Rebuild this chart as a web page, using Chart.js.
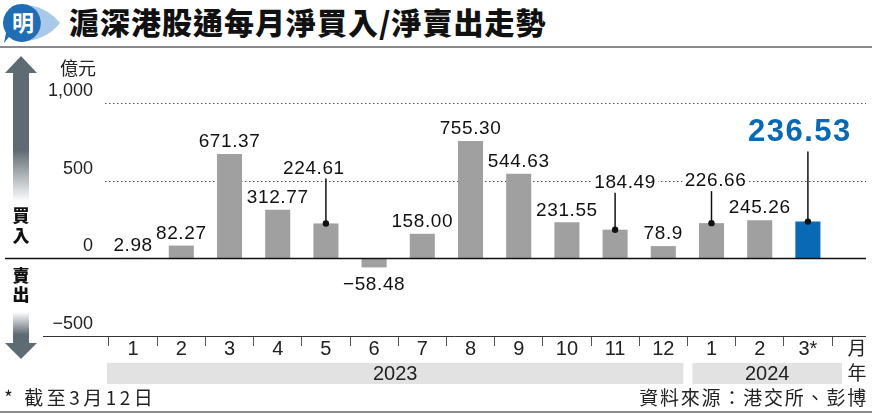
<!DOCTYPE html>
<html>
<head>
<meta charset="utf-8">
<script src="https://cdn.jsdelivr.net/npm/chart.js@4"></script>
<style>
  html, body { margin: 0; padding: 0; background: #fff; }
  #wrap { position: relative; width: 872px; height: 414px; overflow: hidden; }
  #chart { position: absolute; left: 0; top: 0; }
  .title { position: absolute; left: 69px; top: 1px; font: 900 30px "Noto Sans CJK TC", sans-serif; color: #111; letter-spacing: 1px; line-height: 40px; }
  .rule { position: absolute; left: 0; width: 872px; height: 2px; background: #8a8a8a; }
  .foot { position: absolute; top: 385px; font: 19px "Noto Sans CJK TC", sans-serif; color: #222; line-height: 24px; }
</style>
</head>
<body>
<div id="wrap">
  <svg style="position:absolute;left:0;top:0" width="64" height="46">
    <path d="M28 5 Q48 8 60 23 Q48 38 28 41 Z" fill="#a9c9ea"/>
    <path d="M23 4 A19 19 0 1 1 9 37 L4 43 L6 33 A19 19 0 0 1 23 4 Z" fill="#1f6db4"/>
    <text x="23" y="31" text-anchor="middle" font-family="Noto Sans CJK TC" font-weight="bold" font-size="22" fill="#fff">明</text>
  </svg>
  <div class="title">滬深港股通每月淨買入/淨賣出走勢</div>
  <div class="rule" style="top:46px"></div>
  <canvas id="chart" width="872" height="414"></canvas>
  <div class="foot" style="left:4px;letter-spacing:3.5px">* 截至3月12日</div>
  <div class="foot" style="right:4px;letter-spacing:1.8px">資料來源：港交所、彭博</div>
  <div class="rule" style="top:411px"></div>
</div>
<script>
// Data
const months = ['1', '2', '3', '4', '5', '6', '7', '8', '9', '10', '11', '12', '1', '2', '3*'];
const years = ['2023', '2024'];
const yearSpans = [12, 3];
const netFlow = [2.98, 82.27, 671.37, 312.77, 224.61, -58.48, 158.00, 755.30, 544.63, 231.55, 184.49, 78.9, 226.66, 245.26, 236.53];
const valueText = ['2.98', '82.27', '671.37', '312.77', '224.61', '−58.48', '158.00', '755.30', '544.63', '231.55', '184.49', '78.9', '226.66', '245.26', '236.53'];
const yTicks = [-500, 0, 500, 1000];

// label placement (pixels) for the labels with leader lines
const leaderLift = { 4: 56, 10: 48, 12: 43, 14: 90 };
const leaderShift = { 4: -12, 10: 10, 12: 4, 14: -8 };

const GRAY = '#a0a0a0';
const BLUE = '#0a69b4';
const NUM_FONT = '"Liberation Sans", Arial, sans-serif';
const NARROW_FONT = '"Liberation Sans Narrow", "Arial Narrow", "Liberation Sans", sans-serif';
const CJK_FONT = '"Noto Sans CJK TC", sans-serif';

function arrowShaft(ctx, y0, y1, fadeTop) {
    const g = ctx.createLinearGradient(0, y0, 0, y1);
    if (fadeTop) {
        g.addColorStop(0, 'rgba(95,107,115,0)');
        g.addColorStop(0.7, '#5f6b73');
    } else {
        g.addColorStop(0.6, '#5f6b73');
        g.addColorStop(1, 'rgba(95,107,115,0)');
    }
    ctx.fillStyle = g;
    ctx.fillRect(13, y0, 16, y1 - y0);
}

const decor = {
    id: 'decor',
    beforeDatasetsDraw(chart) {
        const ctx = chart.ctx;
        const y = chart.scales.y;
        const x = chart.scales.x;
        const area = chart.chartArea;
        ctx.save();

        // side arrows
        ctx.fillStyle = '#5f6b73';
        ctx.beginPath();
        ctx.moveTo(5, 73); ctx.lineTo(21, 56); ctx.lineTo(37, 73); ctx.closePath();
        ctx.fill();
        arrowShaft(ctx, 72, 202, false);
        arrowShaft(ctx, 312, 344, true);
        ctx.fillStyle = '#5f6b73';
        ctx.beginPath();
        ctx.moveTo(5, 343); ctx.lineTo(21, 359); ctx.lineTo(37, 343); ctx.closePath();
        ctx.fill();

        ctx.fillStyle = '#111';
        ctx.font = '900 17px ' + CJK_FONT;
        ctx.textAlign = 'center';
        ctx.textBaseline = 'middle';
        ctx.fillText('買', 21, 216);
        ctx.fillText('入', 21, 236);
        ctx.fillText('賣', 21, 276);
        ctx.fillText('出', 21, 295);

        // unit
        ctx.font = '18px ' + CJK_FONT;
        ctx.textAlign = 'right';
        ctx.fillStyle = '#222';
        ctx.fillText('億元', 96, 68);

        // dotted grid lines
        ctx.strokeStyle = '#555';
        ctx.lineWidth = 1;
        ctx.setLineDash([1.5, 2.5]);
        y.ticks.forEach(t => {
            if (t.value <= 0) return;
            const py = Math.round(y.getPixelForValue(t.value)) + 0.5;
            ctx.beginPath();
            ctx.moveTo(105, py);
            ctx.lineTo(866, py);
            ctx.stroke();
        });
        ctx.setLineDash([]);

        // year bands
        const half = (x.getPixelForValue(1) - x.getPixelForValue(0)) / 2;
        let start = 0;
        ctx.font = '20px ' + NARROW_FONT;
        ctx.textAlign = 'center';
        years.forEach((yr, k) => {
            const end = start + yearSpans[k] - 1;
            const left = x.getPixelForValue(start) - half + (k === 0 ? -2 : 5);
            const right = x.getPixelForValue(end) + half + (k === years.length - 1 ? 10 : -4);
            ctx.fillStyle = '#e2e2e2';
            ctx.fillRect(left, 363, right - left, 21);
            ctx.fillStyle = '#222';
            ctx.fillText(yr, (left + right) / 2, 374);
            start = end + 1;
        });

        ctx.font = '19px ' + CJK_FONT;
        ctx.fillText('月', 857, 348);
        ctx.fillText('年', 857, 373);

        // bottom axis line
        ctx.strokeStyle = '#333';
        ctx.beginPath();
        ctx.moveTo(43, area.bottom + 0.5);
        ctx.lineTo(866, area.bottom + 0.5);
        ctx.stroke();
        ctx.restore();
    },
    afterDatasetsDraw(chart) {
        const ctx = chart.ctx;
        const y = chart.scales.y;
        const meta = chart.getDatasetMeta(0);
        ctx.save();

        // zero line
        const zy = Math.round(y.getPixelForValue(0)) + 0.5;
        ctx.strokeStyle = '#111';
        ctx.lineWidth = 1.5;
        ctx.beginPath();
        ctx.moveTo(5, zy);
        ctx.lineTo(866, zy);
        ctx.stroke();

        ctx.textAlign = 'center';
        ctx.textBaseline = 'middle';
        meta.data.forEach((bar, i) => {
            const v = netFlow[i];
            const last = i === netFlow.length - 1;
            ctx.font = last ? 'bold 31px ' + NUM_FONT : '19px ' + NUM_FONT;
            ctx.letterSpacing = last ? '1.5px' : '0.6px';
            let lx = bar.x;
            let ly;
            if (leaderLift[i] !== undefined) {
                ly = bar.y - leaderLift[i];
                lx += leaderShift[i];
                ctx.strokeStyle = '#111';
                ctx.lineWidth = 1.5;
                ctx.beginPath();
                ctx.moveTo(bar.x, bar.y);
                ctx.lineTo(bar.x, ly + (last ? 20 : 11));
                ctx.stroke();
                ctx.fillStyle = '#111';
                ctx.beginPath();
                ctx.arc(bar.x, bar.y, 3.2, 0, Math.PI * 2);
                ctx.fill();
            } else if (v >= 0) {
                ly = bar.y - 13;
            } else {
                ly = bar.y + 16;
            }
            const w = ctx.measureText(valueText[i]).width;
            ctx.fillStyle = '#fff';
            ctx.fillRect(lx - w / 2 - 2, ly - 8, w + 4, 16);
            ctx.fillStyle = last ? BLUE : '#111';
            ctx.fillText(valueText[i], lx, ly + 1);
        });
        ctx.restore();
    }
};

new Chart(document.getElementById('chart'), {
    type: 'bar',
    data: {
        labels: months,
        datasets: [{
            data: netFlow,
            backgroundColor: netFlow.map((v, i) => i === netFlow.length - 1 ? BLUE : GRAY),
            barPercentage: 0.52,
            categoryPercentage: 1
        }]
    },
    options: {
        responsive: false,
        animation: false,
        events: [],
        layout: { padding: { top: 103, left: 45, right: 40, bottom: 0 } },
        plugins: { legend: { display: false }, tooltip: { enabled: false } },
        scales: {
            x: {
                afterFit(s) { s.height = 78; },
                grid: { display: true, drawOnChartArea: false, drawTicks: true, tickLength: 10, color: '#555', offset: true },
                border: { display: false },
                ticks: { color: '#222', padding: -9, font: { family: NARROW_FONT, size: 20 }, maxRotation: 0, autoSkip: false }
            },
            y: {
                min: -500,
                max: 1000,
                afterFit(s) { s.width = 64; },
                afterBuildTicks(s) { s.ticks = yTicks.map(v => ({ value: v })); },
                grid: { display: false },
                border: { display: false },
                ticks: {
                    color: '#222',
                    padding: 8,
                    labelOffset: -12,
                    font: { family: NUM_FONT, size: 18 },
                    callback: v => v < 0 ? '−' + Math.abs(v) : v.toLocaleString('en-US')
                }
            }
        }
    },
    plugins: [decor]
});
</script>
</body>
</html>
